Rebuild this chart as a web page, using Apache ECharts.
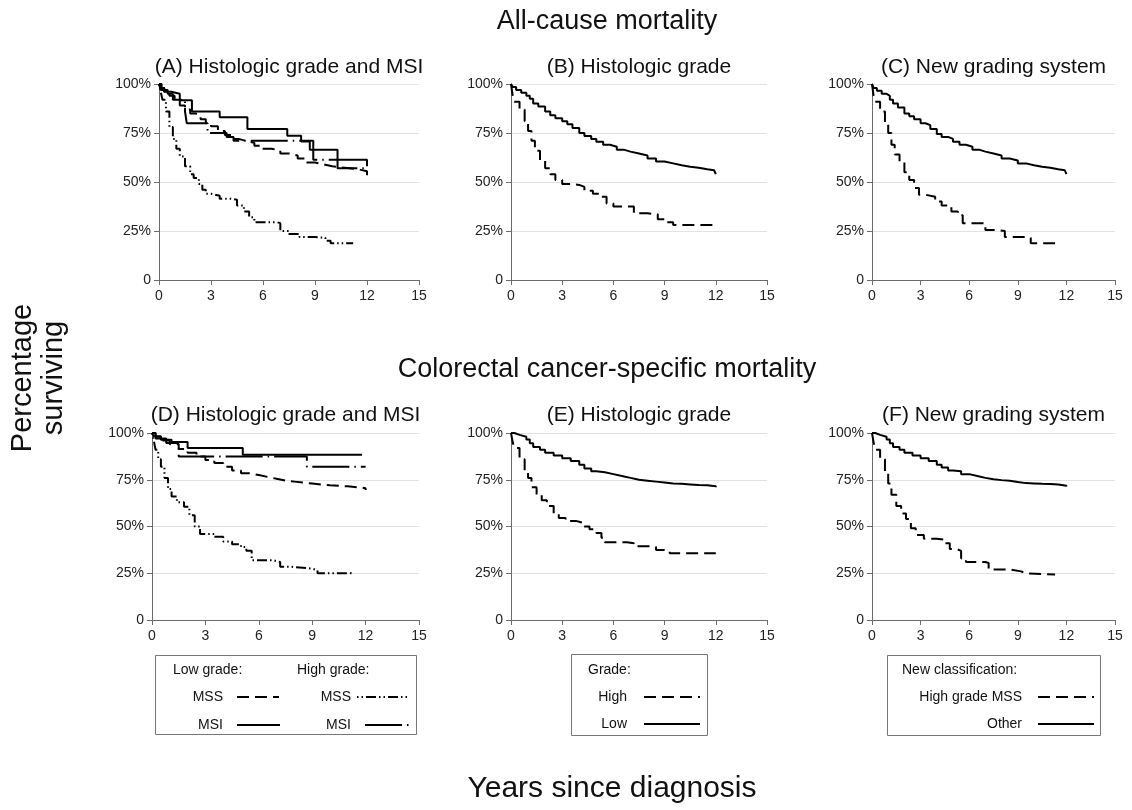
<!DOCTYPE html>
<html><head><meta charset="utf-8">
<script src="https://cdn.jsdelivr.net/npm/echarts@6/dist/echarts.min.js"></script>
<style>html,body{margin:0;padding:0;background:#fff}#c{width:1132px;height:810px}</style>
</head><body><div id="c"></div>
<script>
// ---------- data ----------
const xTicks = [0, 3, 6, 9, 12, 15];
const yTicks = [0, 25, 50, 75, 100];
const mainTitles = ['All-cause mortality', 'Colorectal cancer-specific mortality'];
const panelTitles = ['(A) Histologic grade and MSI', '(B) Histologic grade', '(C) New grading system',
                     '(D) Histologic grade and MSI', '(E) Histologic grade', '(F) New grading system'];
const xAxisName = 'Years since diagnosis';
const yAxisName = ['Percentage', 'surviving'];

// Panel A: all-cause, histologic grade and MSI
const A_lowMSS = [[0,100],[0.1,98],[0.3,96],[0.6,94],[0.9,91.5],[1.2,89],[1.5,87],[1.8,85],[2.1,84],[2.4,82],[2.7,80],[3,78.5],[3.4,76],[3.8,74],[4.2,72],[4.6,71],[5,70],[5.5,68.5],[6,67],[6.5,66],[7,64.5],[7.5,63.5],[8,62],[8.5,60],[9,59],[9.5,58],[10,57.5],[10.5,57],[11,56.5],[11.5,55.5],[12,53.5]];
const A_lowMSI = [[0,100],[0.15,98],[0.3,96],[0.7,95],[1.2,91.7],[1.9,86],[3.5,83],[5.1,77],[7.4,73.6],[8.2,70.7],[8.7,66.4],[10.3,61.3],[12,58]];
const A_highMSS = [[0,100],[0.1,96],[0.2,92],[0.4,86],[0.6,78],[0.8,72],[1,67],[1.2,63],[1.5,58],[1.8,54],[2,52],[2.3,49],[2.5,46],[2.7,44],[3,43],[3.5,41.5],[4.1,41],[4.5,38],[4.9,35],[5.2,32],[5.5,29.5],[6.8,29],[7,25],[7.5,23.5],[8.1,22],[9,21.5],[9.6,20],[9.9,18.7],[11.2,18.7]];
const A_highMSI = [[0,100],[0.1,97],[0.5,95],[0.8,92],[1.5,86],[1.6,80],[2.8,75],[3.9,73],[4.3,71],[8.9,61.3],[10.3,57],[12,57]];

// Panel B: all-cause, histologic grade
const B_high = [[0,100],[0.1,94],[0.2,91],[0.5,87],[0.8,81],[1,76],[1.2,71],[1.4,66],[1.7,61],[2,57],[2.3,54],[2.6,51],[3,49],[3.5,48.5],[4,47.5],[4.3,45.5],[4.8,44],[5.3,42.5],[5.6,39],[6,37.5],[7,37.5],[7.2,34],[8,33.5],[8.6,31],[9,29.5],[9.5,28],[11.9,28],[12,26.5]];
const B_low = [[0,100],[0.1,98.5],[0.3,97],[0.6,95.5],[0.9,94],[1.1,92.5],[1.3,90],[1.6,88.5],[2,86],[2.3,84],[2.6,82.5],[3,81],[3.3,79.5],[3.6,77.5],[4,75],[4.3,73.5],[4.7,72],[5,70.5],[5.4,69],[5.8,68],[6.2,66.5],[6.6,65.5],[7,64.5],[7.5,63.5],[8,62],[8.5,60.5],[9,59.5],[9.5,58.5],[10,57.8],[10.5,57.3],[11,56.5],[11.5,56],[11.9,55],[12,54]];

// Panel C: all-cause, new grading system
const C_highMSS = [[0,100],[0.1,94],[0.2,91],[0.5,86],[0.8,80],[1,75],[1.2,69],[1.4,64],[1.7,60],[2,55],[2.3,51],[2.6,47],[2.9,43.5],[3.3,42.5],[3.9,40],[4.3,38],[4.9,35],[5.3,33],[5.6,29],[6.7,29],[7,25.5],[7.6,25],[8.2,22],[9.5,21.5],[9.8,18.7],[11.3,18.7]];
const C_other = [[0,100],[0.1,98],[0.3,96.5],[0.6,95],[0.9,94],[1.1,92],[1.3,90],[1.6,88],[2,85],[2.3,83.5],[2.6,82],[3,80],[3.3,79],[3.6,77],[4,74.5],[4.3,73],[4.7,72],[5,70.5],[5.4,69],[5.8,68],[6.2,66.5],[6.6,65.5],[7,64.5],[7.5,63.5],[8,62],[8.5,61],[9,59.5],[9.5,58.5],[10,57.8],[10.5,57.3],[11,56.5],[11.5,56],[11.9,55],[12,54]];

// Panel D: CRC-specific, histologic grade and MSI
const D_lowMSS = [[0,100],[0.2,98],[0.5,96],[1,94],[1.5,91.5],[2,89.5],[2.5,87.5],[3,85.5],[3.5,84],[4,82],[4.5,80],[5,78.5],[5.5,77.5],[6,76.5],[6.5,75.5],[7,74.5],[7.5,74],[8,73.5],[8.5,73],[9,72],[10,71.5],[11,71],[11.5,70.5],[12,69.5]];
const D_lowMSI = [[0,100],[0.1,98.2],[0.5,96.4],[1.1,95.2],[2,92],[5.1,88.4],[11.8,88.4]];
const D_highMSS = [[0,100],[0.1,96],[0.2,91],[0.35,86],[0.5,82],[0.7,76],[0.9,70],[1.1,66],[1.4,63],[1.8,60.5],[2.1,56],[2.4,50],[2.7,46],[3.5,44.5],[4,42],[4.5,40.5],[5,39],[5.3,37],[5.6,32],[6.8,31],[7.2,28.5],[7.8,27.5],[9,26.5],[9.3,25],[11.2,24.5]];
const D_highMSI = [[0,100],[0.2,97],[0.8,94.6],[1.5,87.5],[8.7,82],[12,82]];

// Panel E: CRC-specific, histologic grade
const E_high = [[0,100],[0.1,95],[0.2,92],[0.5,86],[0.8,80],[1,76],[1.2,71],[1.5,67],[1.8,64],[2.1,61],[2.5,57],[2.8,54.5],[3.2,53],[3.8,52],[4.2,50],[4.6,48.5],[5,46.5],[5.3,44],[5.5,41.6],[6.8,41],[7.2,39.5],[8,39],[8.5,37.5],[9,37],[9.3,35.7],[12,35.7]];
const E_low = [[0,100],[0.2,99],[0.5,98],[0.9,96.5],[1.1,94.5],[1.3,92.5],[1.7,91],[2,89.5],[2.5,88],[3,86.5],[3.5,85],[4,83],[4.3,81],[4.7,79.5],[5,79],[5.5,78],[6,77],[6.5,76],[7,75],[7.5,74.5],[8,74],[8.5,73.5],[9,73],[9.5,72.8],[10,72.5],[10.5,72.2],[11,72],[11.5,71.5],[12,71]];

// Panel F: CRC-specific, new grading system
const F_highMSS = [[0,100],[0.1,95],[0.2,91],[0.5,86],[0.8,79],[1,73],[1.2,67],[1.5,61],[1.8,57],[2.1,54],[2.4,49],[2.7,45.5],[3.2,43.5],[4,43],[4.4,41],[4.8,38],[5.2,37],[5.5,33],[5.8,31],[7,30.5],[7.2,27],[8.5,26],[9.2,25],[9.5,24.3],[11.3,24.3]];
const F_other = [[0,100],[0.2,99],[0.5,98],[0.9,96.5],[1.1,94.5],[1.3,92.5],[1.7,91],[2,89.5],[2.5,88],[3,86.5],[3.5,85],[4,83],[4.3,81.5],[4.7,80],[5,79.5],[5.5,78],[6,77],[6.5,76],[7,75.3],[7.5,74.8],[8,74.5],[8.5,73.8],[9,73.2],[9.5,73],[10,72.8],[10.5,72.7],[11,72.5],[11.5,71.8],[12,71.4]];

// legend labels
const legendA = {head: ['Low grade:', 'High grade:'], rows: ['MSS', 'MSI']};
const legendB = {head: 'Grade:', rows: ['High', 'Low']};
const legendC = {head: 'New classification:', rows: ['High grade MSS', 'Other']};

// ---------- styling ----------
const FONT = '"Liberation Sans", Arial, Helvetica, sans-serif';
const DASH = [12, 6];
const DOTDASH = [1.5, 3, 1.5, 3, 10, 3];
const LONGDASHDOT = [37, 5, 1.5, 5];
const SOLID = 'solid';

const grids = [
  {left: 159, top: 84, width: 260, height: 196},
  {left: 511, top: 84, width: 256, height: 196},
  {left: 872, top: 84, width: 243, height: 196},
  {left: 152, top: 433, width: 267, height: 187},
  {left: 511, top: 433, width: 256, height: 187},
  {left: 872, top: 433, width: 243, height: 187}
];

const axisColor = '#6b6b6b';
const xAxes = grids.map((g, i) => ({
  type: 'value', gridIndex: i, min: xTicks[0], max: xTicks[xTicks.length - 1], interval: xTicks[1] - xTicks[0],
  axisLine: {show: true, onZero: false, lineStyle: {color: axisColor, width: 1}},
  axisTick: {show: true, length: 5, lineStyle: {color: axisColor}},
  axisLabel: {fontSize: 14, color: '#222', fontFamily: FONT, margin: 9, showMinLabel: true, showMaxLabel: true},
  splitLine: {show: false}
}));
const yAxes = grids.map((g, i) => ({
  type: 'value', gridIndex: i, min: yTicks[0], max: yTicks[yTicks.length - 1], interval: yTicks[1] - yTicks[0],
  axisLine: {show: true, lineStyle: {color: axisColor, width: 1}},
  axisTick: {show: true, length: 5, lineStyle: {color: axisColor}},
  axisLabel: {fontSize: 14, color: '#222', fontFamily: FONT, margin: 8,
              formatter: v => v === 0 ? '0' : v + '%'},
  splitLine: {show: true, lineStyle: {color: '#e2e2e2', width: 1}}
}));

function km(data, idx, dash, name) {
  return {
    type: 'line', name: name, xAxisIndex: idx, yAxisIndex: idx, data: data, step: 'end',
    showSymbol: false, symbol: 'none', silent: true, animation: false,
    lineStyle: {color: '#000', width: 2, type: dash, cap: 'butt'}
  };
}

const series = [
  km(A_lowMSS, 0, DASH, 'Low MSS'), km(A_highMSS, 0, DOTDASH, 'High MSS'),
  km(A_highMSI, 0, LONGDASHDOT, 'High MSI'), km(A_lowMSI, 0, SOLID, 'Low MSI'),
  km(B_high, 1, DASH, 'High'), km(B_low, 1, SOLID, 'Low'),
  km(C_highMSS, 2, DASH, 'High grade MSS'), km(C_other, 2, SOLID, 'Other'),
  km(D_lowMSS, 3, DASH, 'Low MSS'), km(D_highMSS, 3, DOTDASH, 'High MSS'),
  km(D_highMSI, 3, LONGDASHDOT, 'High MSI'), km(D_lowMSI, 3, SOLID, 'Low MSI'),
  km(E_high, 4, DASH, 'High'), km(E_low, 4, SOLID, 'Low'),
  km(F_highMSS, 5, DASH, 'High grade MSS'), km(F_other, 5, SOLID, 'Other')
];

// ---------- graphic texts & legends ----------
function txt(x, y, s, size, align, rot) {
  const el = {type: 'text', x: x, y: y, silent: true,
    style: {text: s, fill: '#111', font: size + 'px ' + FONT, align: align || 'center', verticalAlign: 'middle',
            textAlign: align || 'center', textVerticalAlign: 'middle'}};
  if (rot) el.rotation = rot;
  return el;
}
function seg(x1, x2, y, dash) {
  return {type: 'line', silent: true, shape: {x1: x1, y1: y, x2: x2, y2: y},
    style: {stroke: '#000', lineWidth: 2, lineDash: dash === SOLID ? null : dash, lineCap: 'butt'}};
}
function box(x, y, w, h) {
  return {type: 'rect', silent: true, shape: {x: x, y: y, width: w, height: h},
    style: {fill: 'none', stroke: '#777', lineWidth: 1}};
}

const graphics = [];
graphics.push(txt(607, 22, mainTitles[0], 27));
graphics.push(txt(607, 370, mainTitles[1], 27));
graphics.push(txt(612, 789, xAxisName, 30));
graphics.push(txt(23, 378, yAxisName[0], 29, 'center', Math.PI / 2));
graphics.push(txt(54, 378, yAxisName[1], 29, 'center', Math.PI / 2));
const titleY = [67, 67, 67, 415, 415, 415];
grids.forEach((g, i) => graphics.push(txt(g.left + g.width / 2, titleY[i], panelTitles[i], 21)));

// legend A
graphics.push(box(155.5, 655.5, 261, 79));
graphics.push(txt(173, 670, legendA.head[0], 14, 'left'));
graphics.push(txt(297, 670, legendA.head[1], 14, 'left'));
graphics.push(txt(223, 697, legendA.rows[0], 14, 'right'));
graphics.push(txt(223, 725, legendA.rows[1], 14, 'right'));
graphics.push(txt(351, 697, legendA.rows[0], 14, 'right'));
graphics.push(txt(351, 725, legendA.rows[1], 14, 'right'));
graphics.push(seg(237, 279, 697, DASH));
graphics.push(seg(237, 280, 725, SOLID));
graphics.push(seg(357, 410, 697, DOTDASH));
graphics.push(seg(365, 411, 725, LONGDASHDOT));
// legend B
graphics.push(box(571.5, 654.5, 136, 81));
graphics.push(txt(588, 670, legendB.head, 14, 'left'));
graphics.push(txt(627, 697, legendB.rows[0], 14, 'right'));
graphics.push(txt(627, 724, legendB.rows[1], 14, 'right'));
graphics.push(seg(644, 700, 697, DASH));
graphics.push(seg(644, 700, 724, SOLID));
// legend C
graphics.push(box(887.5, 655.5, 213, 80));
graphics.push(txt(902, 670, legendC.head, 14, 'left'));
graphics.push(txt(1022, 697, legendC.rows[0], 14, 'right'));
graphics.push(txt(1022, 724, legendC.rows[1], 14, 'right'));
graphics.push(seg(1038, 1094, 697, DASH));
graphics.push(seg(1038, 1094, 724, SOLID));

const chart = echarts.init(document.getElementById('c'), null, {renderer: 'canvas'});
chart.setOption({
  backgroundColor: '#fff',
  animation: false,
  textStyle: {fontFamily: FONT},
  grid: grids,
  xAxis: xAxes,
  yAxis: yAxes,
  series: series,
  graphic: graphics
});
</script>
</body></html>
